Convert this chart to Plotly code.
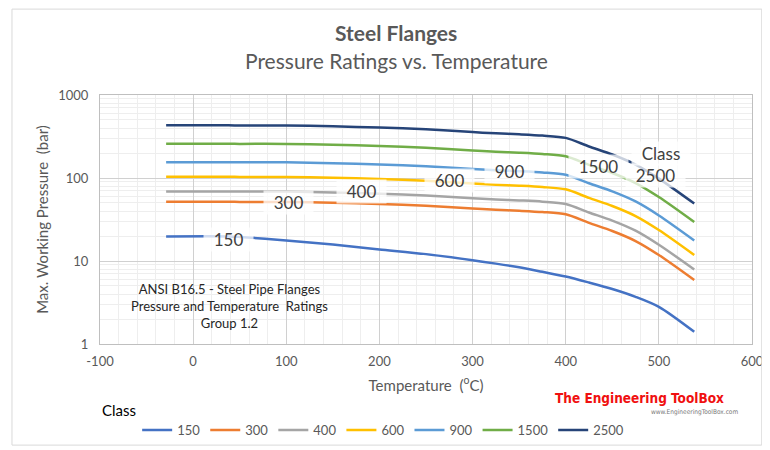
import plotly.graph_objects as go

temps = [-29, 38, 50, 100, 150, 200, 250, 300, 325, 350, 375, 400, 425, 450, 475, 500, 538]
class_names = ["150", "300", "400", "600", "900", "1500", "2500"]
p150 = [19.8, 19.8, 19.5, 17.7, 15.8, 13.8, 12.1, 10.2, 9.3, 8.4, 7.4, 6.5, 5.5, 4.6, 3.7, 2.8, 1.4]
p300 = [51.7, 51.7, 51.5, 51.5, 50.3, 48.6, 46.3, 42.9, 41.4, 40.3, 38.9, 36.5, 28.8, 23.0, 17.4, 11.8, 5.9]
p400 = [68.9, 68.9, 68.7, 68.7, 67.0, 64.8, 61.7, 57.2, 55.2, 53.7, 51.9, 48.6, 38.4, 30.7, 23.2, 15.7, 7.9]
p600 = [103.4, 103.4, 103.0, 103.0, 100.6, 97.2, 92.6, 85.8, 82.8, 80.6, 77.8, 73.0, 57.6, 46.0, 34.8, 23.6, 11.8]
p900 = [155.1, 155.1, 154.5, 154.5, 150.9, 145.8, 138.9, 128.7, 124.2, 120.9, 116.7, 109.5, 86.4, 69.0, 52.2, 35.4, 17.7]
p1500 = [258.6, 258.6, 257.6, 257.6, 251.5, 243.2, 231.5, 214.4, 207.1, 201.5, 194.4, 182.5, 143.8, 115.0, 87.0, 59.0, 29.5]
p2500 = [430.9, 430.9, 429.4, 429.4, 419.2, 405.4, 385.9, 357.5, 345.1, 335.8, 324.1, 304.2, 239.7, 191.7, 145.0, 98.3, 49.2]
series = [p150, p300, p400, p600, p900, p1500, p2500]
colors = ["#4472C4", "#ED7D31", "#A5A5A5", "#FFC000", "#5B9BD5", "#70AD47", "#264478"]

x_tick_vals = [-100, 0, 100, 200, 300, 400, 500, 600]
x_tick_text = ["-100", "0", "100", "200", "300", "400", "500", "600"]
y_tick_vals = [1, 10, 100, 1000]
y_tick_text = ["1", "10", "100", "1000"]

# data-label positions (temperature, log10 pressure)
label_texts = ["150", "300", "400", "600", "900", "1500", "Class", "2500"]
label_x = [38, 102, 181, 275, 340, 435, 502, 496]
label_y = [1.265, 1.699, 1.843, 1.964, 2.084, 2.133, 2.30, 2.036]

fig = go.Figure()
for name, vals, c in zip(class_names, series, colors):
    fig.add_trace(go.Scatter(x=temps, y=vals, name=name, mode="lines",
                             line=dict(color=c, width=2.5, shape="spline", smoothing=0.8)))

font_family = "Lato, Open Sans, sans-serif"
grey = "#595959"

annotations = []
for t, x, y in zip(label_texts, label_x, label_y):
    annotations.append(dict(x=x, y=y, xref="x", yref="y", text="&nbsp;&nbsp;" + t + "&nbsp;&nbsp;",
                            showarrow=False,
                            font=dict(family=font_family, size=17, color="#404040"),
                            bgcolor="rgba(255,255,255,0.75)", borderpad=1))

annotations += [
    dict(x=0.454, y=1.253, xref="paper", yref="paper", text="<b>Steel Flanges</b>", showarrow=False,
         font=dict(family=font_family, size=21, color=grey), xanchor="center", yanchor="middle"),
    dict(x=0.454, y=1.14, xref="paper", yref="paper", text="Pressure Ratings vs. Temperature", showarrow=False,
         font=dict(family=font_family, size=21, color=grey), xanchor="center", yanchor="middle"),
    dict(x=0.198, y=0.153, xref="paper", yref="paper",
         text="ANSI B16.5 - Steel Pipe Flanges<br>Pressure and Temperature  Ratings<br>Group 1.2",
         showarrow=False, align="center",
         font=dict(family=font_family, size=13, color="#262626"), xanchor="center", yanchor="middle"),
    dict(x=0.0, y=-0.265, xref="paper", yref="paper", text="Class", showarrow=False,
         font=dict(family=font_family, size=15, color="#000000"), xanchor="left", yanchor="middle"),
    dict(x=0.8275, y=-0.215, xref="paper", yref="paper", text="<b>The Engineering ToolBox</b>",
         showarrow=False, font=dict(family="DejaVu Sans Condensed, Liberation Sans Narrow, sans-serif",
                                    size=13.5, color="#F01010"), xanchor="center", yanchor="middle"),
    dict(x=0.982, y=-0.273, xref="paper", yref="paper", text="www.EngineeringToolBox.com",
         showarrow=False, font=dict(family="DejaVu Sans Condensed, sans-serif", size=6.5, color="#777777"),
         xanchor="right", yanchor="middle"),
]

fig.update_layout(
    width=762, height=442,
    margin=dict(l=92, r=18, t=87, b=106, autoexpand=False),
    paper_bgcolor="white", plot_bgcolor="white",
    font=dict(family=font_family, color=grey, size=13),
    showlegend=True,
    legend=dict(orientation="h", x=0.057, y=-0.285, xanchor="left", yanchor="top",
                font=dict(family=font_family, size=13, color=grey), itemwidth=30,
                tracegroupgap=0, bgcolor="rgba(0,0,0,0)"),
    annotations=annotations,
    shapes=[dict(type="rect", xref="paper", yref="paper", x0=-0.135, x1=1.015, y0=-0.406, y1=1.345,
                 line=dict(color="#D9D9D9", width=1))],
)

fig.update_xaxes(range=[-100, 600], tickvals=x_tick_vals, ticktext=x_tick_text,
                 showgrid=True, gridcolor="#D0D0D0", gridwidth=1,
                 minor=dict(dtick=20, showgrid=True, gridcolor="#EEEEEE", gridwidth=1),
                 zeroline=False, showline=True, linecolor="#BFBFBF", linewidth=1, mirror=True,
                 ticks="outside", ticklen=5, tickcolor="rgba(0,0,0,0)", tickfont=dict(size=13, color=grey),
                 automargin=False,
                 title=dict(text="Temperature  (<sup>o</sup>C)", font=dict(size=15, color=grey), standoff=12))
fig.update_yaxes(type="log", range=[0, 3], tickvals=y_tick_vals, ticktext=y_tick_text,
                 showgrid=True, gridcolor="#D0D0D0", gridwidth=1,
                 minor=dict(dtick="D1", showgrid=True, gridcolor="#EEEEEE", gridwidth=1),
                 zeroline=False, showline=True, linecolor="#BFBFBF", linewidth=1, mirror=True,
                 ticks="outside", ticklen=8, tickcolor="rgba(0,0,0,0)", tickfont=dict(size=13, color=grey),
                 automargin=False,
                 title=dict(text="Max. Working Pressure  (bar)", font=dict(size=15, color=grey), standoff=5))

fig.write_html("out.html")
